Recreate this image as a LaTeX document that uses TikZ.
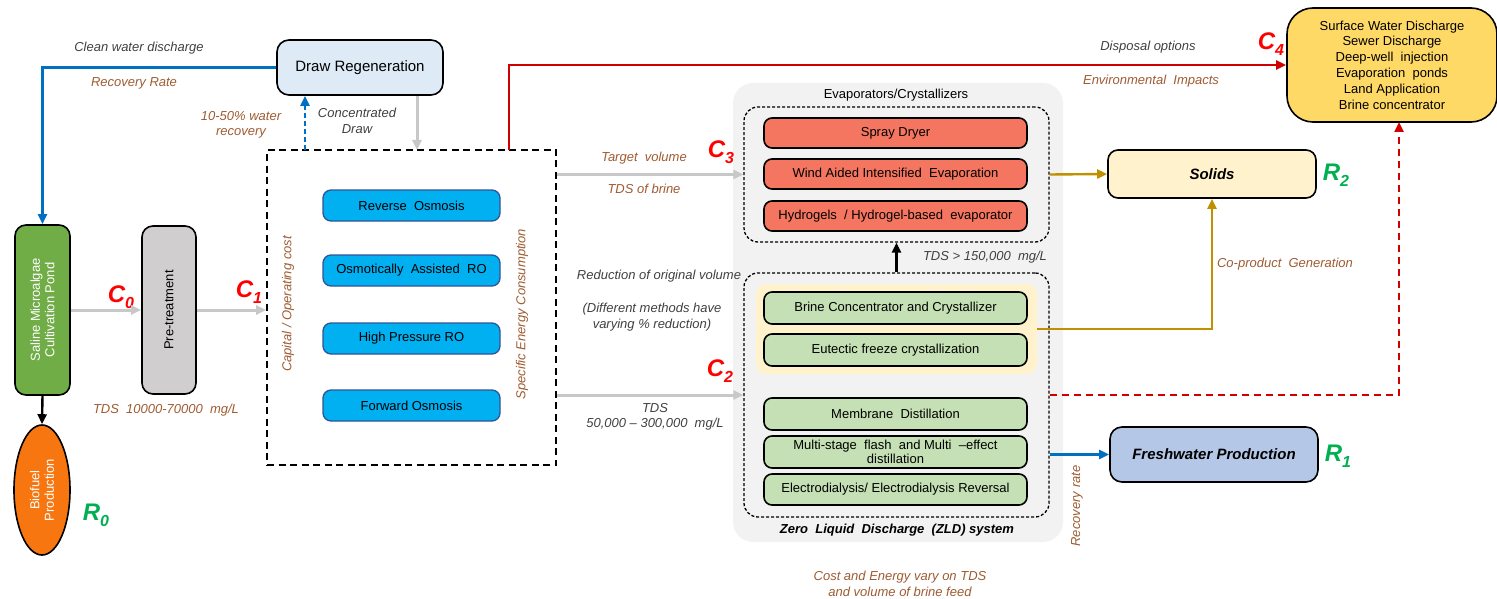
\documentclass[tikz,border=0pt]{standalone}
\usepackage{fontspec}
\setmainfont{Liberation Sans}
\usetikzlibrary{arrows.meta,positioning,calc,shapes.geometric}
\definecolor{brn}{HTML}{9E5B32}
\definecolor{dgr}{HTML}{404040}
\definecolor{cred}{HTML}{FF0000}
\definecolor{rgrn}{HTML}{00B050}
\definecolor{drlb}{HTML}{DEEBF7}
\definecolor{cyanbox}{HTML}{00B0F0}
\definecolor{cyanbd}{HTML}{2F5597}
\definecolor{redbox}{HTML}{F47560}
\definecolor{grnbox}{HTML}{C5E0B4}
\definecolor{salgrn}{HTML}{70AD47}
\definecolor{pregr}{HTML}{D0CECE}
\definecolor{bioor}{HTML}{F7760F}
\definecolor{surfy}{HTML}{FFD966}
\definecolor{solidy}{HTML}{FFF2CC}
\definecolor{freshb}{HTML}{B4C7E7}
\definecolor{goldl}{HTML}{BF9000}
\definecolor{redl}{HTML}{D00000}
\definecolor{bluel}{HTML}{0070C0}
\definecolor{grayl}{HTML}{C8C8C8}
\definecolor{zldbg}{HTML}{F2F2F2}
\newcommand{\Clab}[1]{{\fontsize{24}{24}\selectfont\bfseries\itshape C\raisebox{-0.25em}{\fontsize{16}{16}\selectfont #1}}}
\newcommand{\Rlab}[1]{{\fontsize{24}{24}\selectfont\bfseries\itshape R\raisebox{-0.25em}{\fontsize{16}{16}\selectfont #1}}}
\tikzset{
  base/.style={draw=black, line width=1.6pt, rounded corners=8pt, align=center, inner sep=0pt, font=\fontsize{13}{15}\selectfont},
  cyb/.style={base, fill=cyanbox, draw=cyanbd, line width=1.3pt, minimum width=177, minimum height=31},
  rdb/.style={base, fill=redbox, minimum width=263, minimum height=30},
  gnb/.style={base, fill=grnbox, minimum width=263, minimum height=31},
  lab/.style={font=\fontsize{13}{15.5}\selectfont\itshape, text=brn, align=center, inner sep=0pt},
  dlab/.style={font=\fontsize{13}{15.5}\selectfont\itshape, text=dgr, align=center, inner sep=0pt},
  dashbox/.style={draw=black, dash pattern=on 3pt off 2pt, line width=1.3pt, rounded corners=14pt, minimum width=305},
  tip/.style={-{Triangle[length=10pt,width=9pt]}},
  grayarrow/.style={tip, draw=grayl, line width=3pt, color=grayl},
  conn/.style={tip, line width=2.4pt},
}
\begin{document}
\begin{tikzpicture}[x=1pt,y=-1pt]
\useasboundingbox (0,0) rectangle (1497,599);
% ---------- left part ----------
\node[base, fill=drlb, minimum width=166, minimum height=55, rounded corners=12pt, font=\fontsize{15}{17}\selectfont] (draw) at (360,67.5) {Draw Regeneration};
\node[base, fill=salgrn, minimum width=55, minimum height=170, rounded corners=11pt] (saline) at (42.5,310) {};
\node[rotate=90, text=white, align=center, font=\fontsize{13}{14.5}\selectfont] (salinet) at (saline.center) {Saline Microalgae\\Cultivation Pond};
\node[base, fill=pregr, minimum width=54, minimum height=168, rounded corners=11pt] (pre) at (169,310) {};
\node[rotate=90, align=center, font=\fontsize{13}{14.5}\selectfont] (pret) at (pre.center) {Pre-treatment};
\node[ellipse, draw=black, line width=1.6pt, fill=bioor, minimum width=56, minimum height=130, inner sep=0pt] (bio) at (42,490) {};
\node[rotate=90, text=white, align=center, font=\fontsize{13}{14.5}\selectfont] (biot) at (bio.center) {Biofuel\\Production};
\node (r0) at (96,515) {\color{rgrn}\Rlab{0}};
\node (c0) at (121,297) {\color{cred}\Clab{0}};
\node (c1) at (249,292) {\color{cred}\Clab{1}};
\node[lab] (tds1) at (166,410) {TDS\ \ 10000-70000\ \ mg/L};
\node[dlab] (clean) at (139,48) {Clean water discharge};
\node[lab] (recr) at (134,83) {Recovery Rate};
\node[lab] (wrec) at (241,125) {10-50\% water\\recovery};
\node[dlab] (conc) at (357,121) {Concentrated\\Draw};
% membrane frame
\node[draw=black, dash pattern=on 7pt off 4.5pt, line width=1.6pt, minimum width=289, minimum height=315, inner sep=0pt] (frame) at (411.5,307.5) {};
\node[cyb] (ro) at (411.5,205.5) {Reverse\ \ Osmosis};
\node[cyb] (oaro) at (411.5,270.5) {Osmotically\ \ Assisted\ \ RO};
\node[cyb] (hpro) at (411.5,338.5) {High Pressure RO};
\node[cyb] (fo) at (411.5,405.5) {Forward Osmosis};
\node[lab, rotate=90] (capc) at (288,304) {Capital / Operating cost};
\node[lab, rotate=90] (sec) at (522,314) {Specific Energy Consumption};
\coordinate (fbl) at (305,150);
\coordinate (fgr) at (417,150);
\coordinate (frd) at (509,150);
% connectors left
\draw[conn, draw=bluel, color=bluel] (draw.west) -| (saline.north);
\draw[conn, draw=bluel, color=bluel, dash pattern=on 5pt off 3pt] (fbl) -- (fbl |- draw.south);
\draw[grayarrow] (fgr |- draw.south) -- (fgr);
\draw[grayarrow] (saline.east) -- (pre.west);
\draw[grayarrow] (pre.east) -- (frame.west |- pre.east);
\draw[conn, draw=black] (saline.south) -- (bio.north);
% ---------- ZLD ----------
\node[fill=zldbg, rounded corners=20pt, minimum width=330, minimum height=459, inner sep=0pt] (zld) at (898,312.5) {};
\node[font=\fontsize{13}{15}\selectfont] (evt) at (896,95) {Evaporators/Crystallizers};
\node[dashbox, minimum height=135] (upper) at (896.5,174.5) {};
\node[dashbox, minimum height=244] (lower) at (896.5,395) {};
\node[fill=solidy, rounded corners=10pt, minimum width=281, minimum height=90, inner sep=0pt] (hl) at (896.5,329) {};
\node[rdb] (spray) at (895.5,133) {Spray Dryer};
\node[rdb] (wind) at (895.5,174) {Wind Aided Intensified\ \ Evaporation};
\node[rdb] (hydro) at (895.5,216) {Hydrogels\ \ / Hydrogel-based\ \ evaporator};
\node[gnb, minimum height=32] (brine) at (895.5,308) {Brine Concentrator\ and Crystallizer};
\node[gnb, minimum height=32] (eut) at (895.5,350) {Eutectic freeze crystallization};
\node[gnb, minimum height=32] (md) at (895.5,414) {Membrane\ \ Distillation};
\node[gnb, minimum height=32, font=\fontsize{13}{14.5}\selectfont] (msf) at (895.5,452) {Multi-stage\ \ flash\ \ and Multi\ \ --effect\\distillation};
\node[gnb] (ed) at (895.5,489.5) {Electrodialysis/\ Electrodialysis\ Reversal};
\node[font=\fontsize{13}{15}\selectfont\bfseries\itshape] (zldt) at (897,530) {Zero\ \ Liquid\ \ Discharge\ \ (ZLD) system};
\draw[conn, draw=black] (lower.north) -- (upper.south);
\node[dlab] (tds150) at (985,257) {TDS > 150,000\ \ mg/L};
% middle labels
\node (c3) at (721,152) {\color{cred}\Clab{3}};
\node[lab] (tv) at (644,158) {Target\ \ volume};
\node[lab] (tdsb) at (644,189) {TDS of brine};
\node[dlab] (red1) at (659,276) {Reduction of original volume};
\node[dlab] (red2) at (652,317) {(Different methods have\\varying \% reduction)};
\node (c2) at (720,371) {\color{cred}\Clab{2}};
\node[dlab] (tds2) at (655,417) {TDS\\50,000 -- 300,000\ \ mg/L};
\draw[grayarrow] (frame.east |- upper.west) -- (upper.west);
\draw[grayarrow] (frame.east |- lower.west) -- (lower.west);
\node[lab] (cost) at (900,584) {Cost and Energy vary on TDS\\and volume of brine feed};
% ---------- right part ----------
\node[base, fill=surfy, minimum width=210, minimum height=114, rounded corners=26pt, font=\fontsize{13}{15.8}\selectfont] (surf) at (1392,65) {Surface Water Discharge\\Sewer Discharge\\Deep-well\ \ injection\\Evaporation\ \ ponds\\Land Application\\Brine concentrator};
\node[base, fill=solidy, minimum width=208, minimum height=48, rounded corners=10pt, font=\fontsize{15}{17}\selectfont\bfseries\itshape] (solids) at (1212,174) {Solids};
\node[base, fill=freshb, minimum width=208, minimum height=55, rounded corners=12pt, font=\fontsize{15}{17}\selectfont\bfseries\itshape] (fresh) at (1214,454.5) {Freshwater Production};
\node (r2) at (1336,175) {\color{rgrn}\Rlab{2}};
\node (r1) at (1338,456) {\color{rgrn}\Rlab{1}};
\node (c4) at (1271,44) {\color{cred}\Clab{4}};
\node[dlab] (disp) at (1148,47) {Disposal options};
\node[lab] (envi) at (1151,81) {Environmental\ \ Impacts};
\node[lab] (cop) at (1285,264) {Co-product\ \ Generation};
\node[lab, rotate=90] (recr2) at (1077,506) {Recovery rate};
\coordinate (sd) at (1399,122);
\draw[conn, draw=redl, color=redl] (frd) |- (surf.west);
\draw[conn, draw=goldl, color=goldl] (upper.east) -- (solids.west);
\draw[conn, draw=goldl, color=goldl] (hl.east) -| (solids.south);
\draw[conn, draw=redl, color=redl, dash pattern=on 7pt off 5pt] (lower.east) -| (sd);
\draw[conn, draw=bluel, color=bluel] (lower.east |- fresh.west) -- (fresh.west);
\end{tikzpicture}
\end{document}
